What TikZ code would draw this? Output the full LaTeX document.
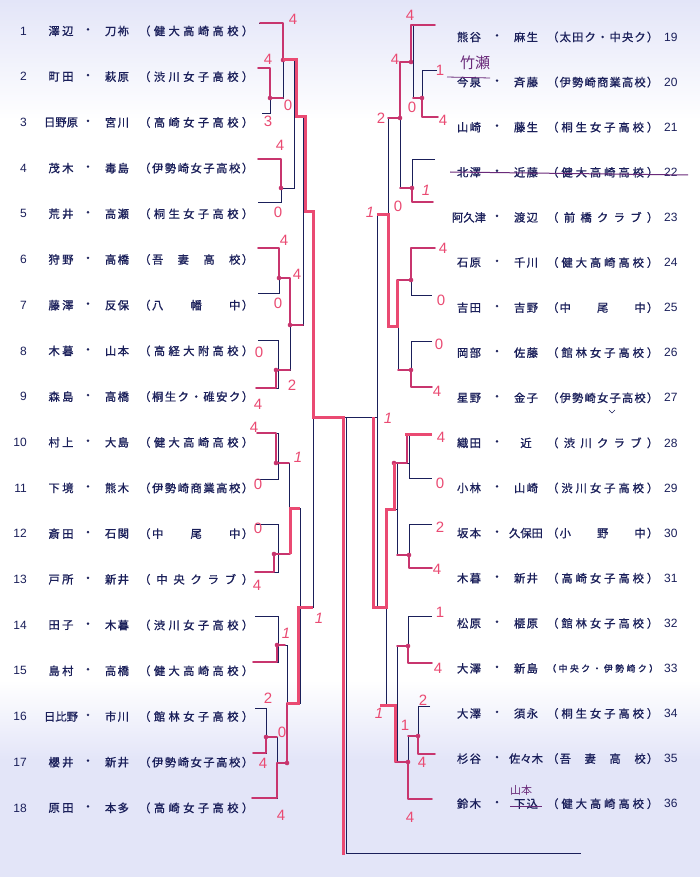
\documentclass[tikz,border=0pt]{standalone}
\usepackage{fontspec}
\setmainfont{Noto Sans CJK JP}
\newfontfamily\jp[FakeBold=1]{Noto Sans CJK JP}
\newfontfamily\jpthin{Noto Sans CJK JP}
\newfontfamily\hand{Liberation Sans}
\definecolor{ink}{HTML}{1A1F5A}
\definecolor{rt}{HTML}{EA4A72}
\definecolor{rh}{HTML}{C8356E}
\definecolor{pur}{HTML}{6A2A7A}
\definecolor{lav}{HTML}{E3E5F8}
\makeatletter
\def\sp@a#1{#1\sp@b}
\def\sp@b#1{\ifx#1\relax\else\hfill#1\expandafter\sp@b\fi}
\newcommand\spr[2]{\makebox[#1][s]{\sp@a#2\relax}}
\makeatother
\tikzset{
  txt/.style={inner sep=0pt, text=ink, font=\jp\fontsize{11.3}{11.3}\selectfont},
  numtxt/.style={inner sep=0pt, text=ink, font=\hand\fontsize{12}{12}\selectfont},
  bk/.style={draw=ink, line width=0.9pt},
  rthick/.style={draw=rt, line width=3pt},
  rhand/.style={draw=rh, line width=1.9pt, line join=round, line cap=round},
  sc/.style={inner sep=0pt, text=rt, font=\hand\fontsize{15}{15}\selectfont}
}
\newcommand\lrow[5]{%
  \pgfmathsetmacro\yy{31+45.7*(#1-1)}
  \node[numtxt,anchor=east] (ln#1) at (27,\yy) {#1};
  \node[txt] (la#1) at (61,\yy) {#2};
  \node[txt] (ld#1) at (88,\yy) {・};
  \node[txt] (lb#1) at (117,\yy) {#3};
  \node[txt,anchor=west] (ls#1) at (139,\yy) {\spr{114pt}{#4}};
}
\newcommand\rrow[5]{%
  \pgfmathsetmacro\yy{37+45.1*(#1-19)}
  \node[txt] (ra#1) at (469,\yy) {#2};
  \node[txt] (rd#1) at (497,\yy) {・};
  \node[txt] (rb#1) at (526,\yy) {#3};
  \node[txt,anchor=west] (rs#1) at (547,\yy) {#4};
  \node[numtxt,anchor=west] (rn#1) at (664,\yy) {#1};
}
\begin{document}
\begin{tikzpicture}[x=1pt,y=-1pt]
\useasboundingbox (0,0) rectangle (700,877);
\fill[white] (0,0) rectangle (700,877);
\shade[top color=lav, bottom color=white] (0,0) rectangle (700,120);
\shade[top color=white, bottom color=lav] (0,680) rectangle (700,760);
\fill[lav] (0,760) rectangle (700,877);

% left entries
\lrow{1}{\spr{25pt}{澤辺}}{\spr{24pt}{刀祢}}{（健大高崎高校）}{}
\lrow{2}{\spr{25pt}{町田}}{\spr{24pt}{萩原}}{（渋川女子高校）}{}
\lrow{3}{日野原}{\spr{24pt}{宮川}}{（高崎女子高校）}{}
\lrow{4}{\spr{25pt}{茂木}}{\spr{24pt}{毒島}}{（伊勢崎女子高校）}{}
\lrow{5}{\spr{25pt}{荒井}}{\spr{24pt}{高瀬}}{（桐生女子高校）}{}
\lrow{6}{\spr{25pt}{狩野}}{\spr{24pt}{高橋}}{（吾　妻　高　校）}{}
\lrow{7}{\spr{25pt}{藤澤}}{\spr{24pt}{反保}}{（八　　幡　　中）}{}
\lrow{8}{\spr{25pt}{木暮}}{\spr{24pt}{山本}}{（高経大附高校）}{}
\lrow{9}{\spr{25pt}{森島}}{\spr{24pt}{高橋}}{（桐生ク・碓安ク）}{}
\lrow{10}{\spr{25pt}{村上}}{\spr{24pt}{大島}}{（健大高崎高校）}{}
\lrow{11}{\spr{25pt}{下境}}{\spr{24pt}{熊木}}{（伊勢崎商業高校）}{}
\lrow{12}{\spr{25pt}{斎田}}{\spr{24pt}{石関}}{（中　　尾　　中）}{}
\lrow{13}{\spr{25pt}{戸所}}{\spr{24pt}{新井}}{（中央クラブ）}{}
\lrow{14}{\spr{25pt}{田子}}{\spr{24pt}{木暮}}{（渋川女子高校）}{}
\lrow{15}{\spr{25pt}{島村}}{\spr{24pt}{高橋}}{（健大高崎高校）}{}
\lrow{16}{日比野}{\spr{24pt}{市川}}{（館林女子高校）}{}
\lrow{17}{\spr{25pt}{櫻井}}{\spr{24pt}{新井}}{（伊勢崎女子高校）}{}
\lrow{18}{\spr{25pt}{原田}}{\spr{24pt}{本多}}{（高崎女子高校）}{}

% right entries
\rrow{19}{\spr{24pt}{熊谷}}{\spr{24pt}{麻生}}{\spr{111pt}{（太田ク・中央ク）}}{}
\rrow{20}{\spr{24pt}{今泉}}{\spr{24pt}{斉藤}}{\spr{111pt}{（伊勢崎商業高校）}}{}
\rrow{21}{\spr{24pt}{山崎}}{\spr{24pt}{藤生}}{\spr{111pt}{（桐生女子高校）}}{}
\rrow{22}{\spr{24pt}{北澤}}{\spr{24pt}{近藤}}{\spr{111pt}{（健大高崎高校）}}{}
\rrow{23}{阿久津}{\spr{24pt}{渡辺}}{\spr{111pt}{（前橋クラブ）}}{}
\rrow{24}{\spr{24pt}{石原}}{\spr{24pt}{千川}}{\spr{111pt}{（健大高崎高校）}}{}
\rrow{25}{\spr{24pt}{吉田}}{\spr{24pt}{吉野}}{\spr{111pt}{（中　　尾　　中）}}{}
\rrow{26}{\spr{24pt}{岡部}}{\spr{24pt}{佐藤}}{\spr{111pt}{（館林女子高校）}}{}
\rrow{27}{\spr{24pt}{星野}}{\spr{24pt}{金子}}{\spr{111pt}{（伊勢崎女子高校）}}{}
\rrow{28}{\spr{24pt}{織田}}{近}{\spr{111pt}{（渋川クラブ）}}{}
\rrow{29}{\spr{24pt}{小林}}{\spr{24pt}{山崎}}{\spr{111pt}{（渋川女子高校）}}{}
\rrow{30}{\spr{24pt}{坂本}}{久保田}{\spr{111pt}{（小　　野　　中）}}{}
\rrow{31}{\spr{24pt}{木暮}}{\spr{24pt}{新井}}{\spr{111pt}{（高崎女子高校）}}{}
\rrow{32}{\spr{24pt}{松原}}{\spr{24pt}{榧原}}{\spr{111pt}{（館林女子高校）}}{}
\rrow{33}{\spr{24pt}{大澤}}{\spr{24pt}{新島}}{\fontsize{9}{9}\selectfont\spr{111pt}{（中央ク・伊勢崎ク）}}{}
\rrow{34}{\spr{24pt}{大澤}}{\spr{24pt}{須永}}{\spr{111pt}{（桐生女子高校）}}{}
\rrow{35}{\spr{24pt}{杉谷}}{佐々木}{\spr{111pt}{（吾　妻　高　校）}}{}
\rrow{36}{\spr{24pt}{鈴木}}{\spr{24pt}{下込}}{\spr{111pt}{（健大高崎高校）}}{}

% ---------- black bracket, left ----------
\draw[bk] (259,23)--(283,23)--(283,98)--(270,98);
\draw[bk] (258,68)--(270,68)--(270,113)--(262,113);
\draw[bk] (283,60)--(294,60)--(294,188)--(281,188);
\draw[bk] (258,159)--(281,159)--(281,202)--(258,202);
\draw[bk] (294,117)--(303,117)--(303,325)--(290,325);
\draw[bk] (258,248)--(279,248)--(279,293)--(258,293);
\draw[bk] (279,278)--(290,278)--(290,370)--(278,370);
\draw[bk] (258,340)--(278,340)--(278,388)--(256,388);
\draw[bk] (303,212)--(313,212)--(313,607)--(300,607);
\draw[bk] (257,433)--(278,433)--(278,479)--(256,479);
\draw[bk] (278,463)--(289,463)--(289,554)--(278,554);
\draw[bk] (256,524)--(278,524)--(278,572)--(255,572);
\draw[bk] (289,508)--(300,508)--(300,703)--(287,703);
\draw[bk] (255,616)--(278,616)--(278,662)--(253,662);
\draw[bk] (278,645)--(287,645)--(287,763)--(277,763);
\draw[bk] (255,708)--(266,708)--(266,753)--(253,753);
\draw[bk] (266,737)--(277,737)--(277,798)--(252,798);
% centre
\draw[bk] (313,417)--(377,417);
\draw[bk] (346,417)--(346,853)--(581,853);
% ---------- black bracket, right ----------
\draw[bk] (435,25)--(413,25)--(413,98)--(422,98);
\draw[bk] (437,70)--(422,70)--(422,117)--(438,117);
\draw[bk] (413,62)--(400,62)--(400,188)--(412,188);
\draw[bk] (435,159)--(412,159)--(412,202)--(433,202);
\draw[bk] (400,118)--(388,118)--(388,325)--(398,325);
\draw[bk] (435,248)--(411,248)--(411,295)--(432,295);
\draw[bk] (411,280)--(398,280)--(398,370)--(411,370);
\draw[bk] (432,341)--(411,341)--(411,387)--(432,387);
\draw[bk] (388,213)--(377,213)--(377,607)--(386,607);
\draw[bk] (432,434)--(409,434)--(409,478)--(432,478);
\draw[bk] (409,463)--(397,463)--(397,555)--(409,555);
\draw[bk] (432,524)--(409,524)--(409,568)--(432,568);
\draw[bk] (397,509)--(386,509)--(386,705)--(397,705);
\draw[bk] (432,616)--(408,616)--(408,663)--(432,663);
\draw[bk] (408,646)--(397,646)--(397,762)--(408,762);
\draw[bk] (430,706)--(418,706)--(418,754)--(435,754);
\draw[bk] (418,736)--(408,736)--(408,799)--(432,799);

% ---------- red hand lines ----------
\draw[rhand] (260,23)--(283,23)--(283,60);
\draw[rhand] (258,68)--(270,68)--(270,98)--(283,98);
\draw[rhand] (258,159)--(281,159)--(281,188);
\draw[rhand] (258,248)--(279,248)--(279,278)--(290,278)--(290,325)--(303,325);
\draw[rhand] (256,388)--(276,388)--(276,370)--(290,370);
\draw[rhand] (257,433)--(276,433)--(276,463)--(289,463);
\draw[rhand] (255,572)--(274,572)--(274,554)--(290,554);
\draw[rhand] (253,662)--(277,662)--(277,645)--(285,645);
\draw[rhand] (253,753)--(266,753)--(266,737)--(277,737);
\draw[rhand] (252,798)--(277,798)--(277,763)--(287,763)--(287,703);
\draw[rhand] (435,25)--(411,25)--(411,62)--(400,62)--(400,118)--(388,118);
\draw[rhand] (438,117)--(422,117)--(422,98)--(413,98);
\draw[rhand] (433,202)--(412,202)--(412,188)--(400,188);
\draw[rhand] (435,248)--(411,248)--(411,280)--(397,280);
\draw[rhand] (432,387)--(411,387)--(411,370)--(398,370);
\draw[rhand] (407,434)--(407,463)--(394,463);
\draw[rhand] (432,568)--(409,568)--(409,555)--(397,555);
\draw[rhand] (432,663)--(408,663)--(408,646)--(397,646);
\draw[rhand] (435,754)--(418,754)--(418,736)--(408,736);
\draw[rhand] (432,799)--(408,799)--(408,762)--(395,762);
\foreach \p in {(283,60),(270,98),(281,188),(279,278),(290,325),(276,370),(276,463),(274,554),(277,645),(266,737),(287,763),(411,62),(400,118),(422,98),(412,188),(411,280),(411,370),(394,463),(409,555),(408,646),(418,736),(408,762)}
  \fill[rh] \p circle (2.3pt);

% ---------- red thick lines ----------
\draw[rthick] (283,60)--(296,60)--(296,117)--(305,117)--(305,212)--(313,212)--(313,417)--(343,417)--(343,855);
\draw[rthick] (313,607)--(298,607)--(298,703)--(287,703);
\draw[rthick] (290,554)--(290,508)--(300,508);
\draw[rthick] (377,215)--(388,215)--(388,326)--(397,326)--(397,280);
\draw[rthick] (373,417)--(373,607)--(386,607)--(386,509)--(394,509)--(394,463);
\draw[rthick] (405,434)--(432,434);
\draw[rthick] (380,705)--(395,705)--(395,762);

% ---------- red scores ----------
\node[sc] (s1) at (293,19) {4};
\node[sc] (s2) at (268,59) {4};
\node[sc] (s3) at (288,105) {0};
\node[sc] (s4) at (268,121) {3};
\node[sc] (s5) at (280,145) {4};
\node[sc] (s6) at (278,212) {0};
\node[sc] (s7) at (284,240) {4};
\node[sc] (s8) at (297,274) {4};
\node[sc] (s9) at (278,303) {0};
\node[sc] (s10) at (259,352) {0};
\node[sc] (s11) at (292,385) {2};
\node[sc] (s12) at (258,404) {4};
\node[sc] (s13) at (254,427) {4};
\node[sc] (s14) at (298,457) {\itshape 1};
\node[sc] (s15) at (258,484) {0};
\node[sc] (s16) at (258,528) {0};
\node[sc] (s17) at (257,585) {4};
\node[sc] (s18) at (319,618) {\itshape 1};
\node[sc] (s19) at (286,633) {\itshape 1};
\node[sc] (s20) at (268,698) {2};
\node[sc] (s21) at (282,732) {0};
\node[sc] (s22) at (263,763) {4};
\node[sc] (s23) at (281,815) {4};
\node[sc] (s24) at (410,15) {4};
\node[sc] (s25) at (395,59) {4};
\node[sc] (s26) at (440,70) {1};
\node[sc] (s27) at (412,107) {0};
\node[sc] (s28) at (381,118) {2};
\node[sc] (s29) at (443,120) {4};
\node[sc] (s30) at (426,190) {\itshape 1};
\node[sc] (s31) at (398,206) {0};
\node[sc] (s32) at (370,212) {\itshape 1};
\node[sc] (s33) at (443,248) {4};
\node[sc] (s34) at (441,300) {0};
\node[sc] (s35) at (439,344) {0};
\node[sc] (s36) at (437,391) {4};
\node[sc] (s37) at (388,418) {\itshape 1};
\node[sc] (s38) at (441,437) {4};
\node[sc] (s39) at (440,483) {0};
\node[sc] (s40) at (440,527) {2};
\node[sc] (s41) at (437,569) {4};
\node[sc] (s42) at (440,612) {1};
\node[sc] (s43) at (438,668) {4};
\node[sc] (s44) at (423,700) {2};
\node[sc] (s45) at (405,725) {1};
\node[sc] (s46) at (422,762) {4};
\node[sc] (s47) at (379,713) {\itshape 1};
\node[sc] (s48) at (410,817) {4};

% ---------- handwritten corrections ----------
\node[inner sep=0pt, text=pur, font=\jpthin\fontsize{15}{15}\selectfont] (n20) at (475,63) {竹瀬};
\draw[pur, line width=0.8pt] (447,77)--(490,78);
\draw[pur, line width=1pt] (450,172)--(688,175);
\node[inner sep=0pt, text=pur, font=\jpthin\fontsize{11}{11}\selectfont] (n36) at (521,790) {山本};
\draw[pur, line width=0.8pt] (510,806)--(542,806);
\draw[ink, line width=0.6pt] (609,410)--(612,413)--(615,410);
\end{tikzpicture}
\end{document}
